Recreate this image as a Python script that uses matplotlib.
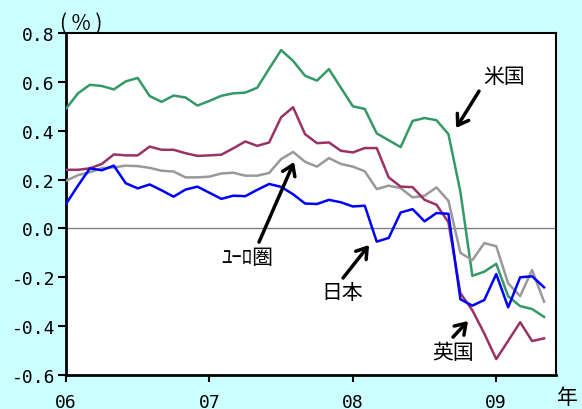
import numpy as np
import matplotlib
matplotlib.use('Agg')
import matplotlib.pyplot as plt

plt.rcParams['font.family'] = ['Noto Sans CJK JP', 'DejaVu Sans']

# monthly, Jan 2006 .. May 2009
months = np.arange(41)
year_ticks = [0, 12, 24, 36]
year_labels = ['06', '07', '08', '09']

us = [0.490, 0.553, 0.588, 0.583, 0.569, 0.602, 0.616, 0.542, 0.518, 0.544,
      0.536, 0.503, 0.522, 0.543, 0.553, 0.556, 0.576, 0.654, 0.730, 0.686,
      0.625, 0.605, 0.652, 0.576, 0.500, 0.489, 0.389, 0.361, 0.333, 0.440,
      0.452, 0.443, 0.386, 0.150, -0.194, -0.177, -0.145, -0.278, -0.318, -0.330,
      -0.362]
euro = [0.195, 0.218, 0.230, 0.247, 0.250, 0.257, 0.255, 0.248, 0.236, 0.233,
        0.209, 0.209, 0.212, 0.225, 0.228, 0.216, 0.216, 0.227, 0.284, 0.313,
        0.273, 0.253, 0.288, 0.264, 0.253, 0.234, 0.161, 0.175, 0.165, 0.127,
        0.134, 0.168, 0.113, -0.100, -0.130, -0.060, -0.073, -0.225, -0.277, -0.170,
        -0.300]
uk = [0.240, 0.240, 0.246, 0.264, 0.303, 0.299, 0.299, 0.335, 0.322, 0.322,
      0.308, 0.297, 0.299, 0.302, 0.328, 0.356, 0.338, 0.352, 0.455, 0.496,
      0.386, 0.349, 0.352, 0.318, 0.311, 0.329, 0.329, 0.209, 0.171, 0.169,
      0.117, 0.097, 0.025, -0.265, -0.335, -0.430, -0.535, -0.460, -0.384, -0.461,
      -0.450]
japan = [0.100, 0.175, 0.246, 0.238, 0.257, 0.185, 0.164, 0.180, 0.156, 0.130,
         0.159, 0.171, 0.146, 0.121, 0.134, 0.132, 0.158, 0.182, 0.170, 0.140,
         0.102, 0.100, 0.117, 0.107, 0.090, 0.093, -0.054, -0.039, 0.065, 0.079,
         0.029, 0.063, 0.060, -0.290, -0.316, -0.293, -0.187, -0.323, -0.200, -0.196,
         -0.241]

fig = plt.figure(figsize=(5.82, 4.10), dpi=100, facecolor='#CCFFFF')
ax = fig.add_axes([66 / 582, 34 / 410, 490 / 582, 342 / 410])
ax.set_facecolor('white')

ax.axhline(0, color='#808080', linewidth=1.0, zorder=1)
ax.plot(months, us, color='#339966', linewidth=1.8, zorder=3)
ax.plot(months, euro, color='#999999', linewidth=1.8, zorder=3)
ax.plot(months, uk, color='#993366', linewidth=1.8, zorder=3)
ax.plot(months, japan, color='#0000FF', linewidth=1.8, zorder=3)

ax.set_xlim(0, 41)
ax.set_ylim(-0.6, 0.8)
yt = np.round(np.arange(-0.6, 0.81, 0.2), 1)
ax.set_yticks(yt)
ax.set_yticklabels([f"{v:.1f}" for v in yt], family='DejaVu Sans Mono', fontsize=13)
ax.set_xticks(year_ticks)
ax.set_xticklabels(year_labels, family='DejaVu Sans Mono', fontsize=13)
ax.tick_params(axis='y', direction='out', length=6, width=1.5, pad=2)
ax.tick_params(axis='x', direction='out', length=5, width=1.5, pad=8)

for side in ['left', 'bottom']:
    ax.spines[side].set_linewidth(2.0)
for side in ['top', 'right']:
    ax.spines[side].set_linewidth(1.5)

arrow = dict(arrowstyle='->, head_length=0.6, head_width=0.4', lw=2.5,
             color='black', mutation_scale=12, shrinkA=0, shrinkB=0)

# (label, text pos, arrow tail, arrow tip)
labels = [
    ('米国', (36.65, 0.624), (34.56, 0.562), (32.64, 0.411)),
    ('ﾕｰﾛ圏', (15.15, -0.117), (16.15, -0.056), (19.08, 0.272)),
    ('日本', (23.10, -0.260), (23.18, -0.203), (25.36, -0.068)),
    ('英国', (32.38, -0.506), (32.38, -0.445), (33.64, -0.379)),
]
for name, tpos, tail, tip in labels:
    ax.annotate('', xy=tip, xytext=tail, arrowprops=arrow, zorder=5)
    ax.text(tpos[0], tpos[1], name, fontsize=15, ha='center', va='center', zorder=5)

fig.text(81 / 582, 1 - 24 / 410, '( % )', fontsize=15, ha='center', va='center')
fig.text(567 / 582, 1 - 398 / 410, '年', fontsize=15, ha='center', va='center')

fig.savefig('out.png', dpi=100, facecolor=fig.get_facecolor())
